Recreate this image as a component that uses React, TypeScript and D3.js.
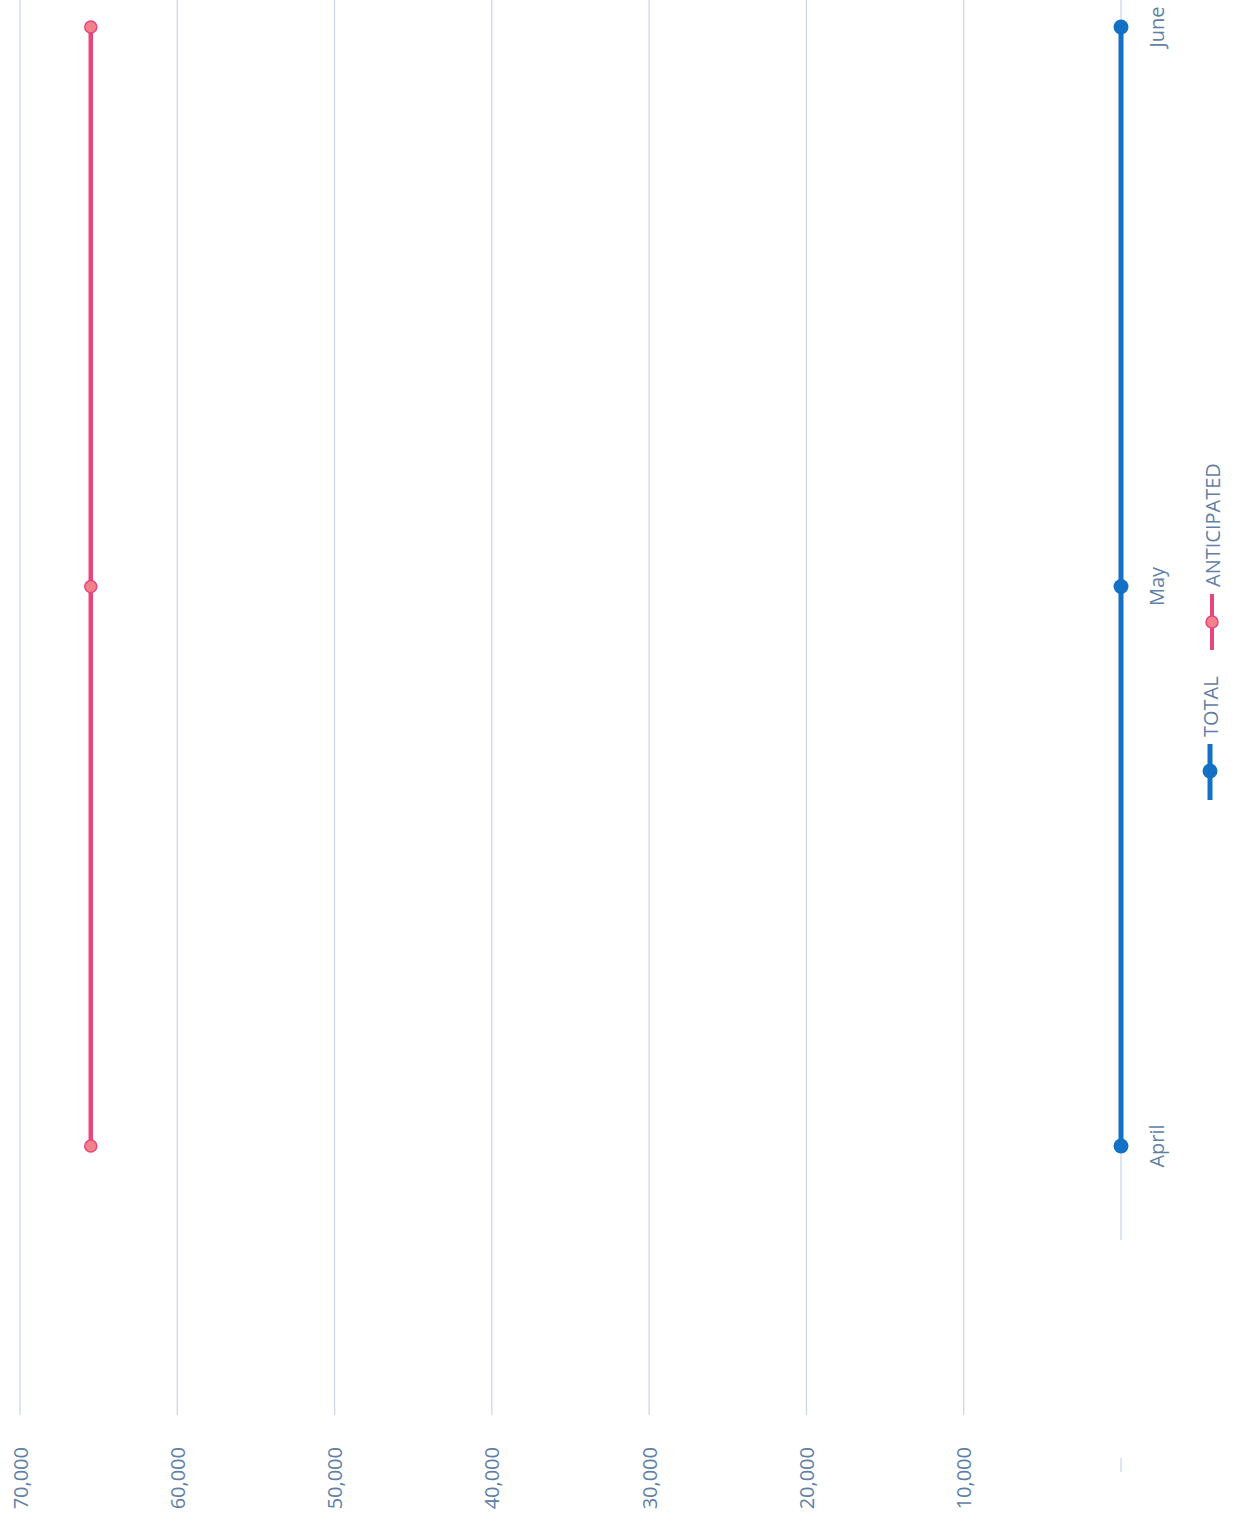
import React from "react";
import * as d3 from "d3";

const categories = ["April", "May", "June"];
const totalValues = [0, 0, 0];
const anticipatedValues = [65500, 65500, 65500];
const valueTicks = [0, 10000, 20000, 30000, 40000, 50000, 60000, 70000];
const seriesNames = ["TOTAL", "ANTICIPATED"];

const W = 1234;
const H = 1521;
const FONT = "'Open Sans', 'DejaVu Sans', sans-serif";
const LABEL = "#5f7fa6";
const GRID = "#cdd8e8";
const BLUE = "#1271c4";
const PINK = "#e8457f";
const PINK_FILL = "#f2828a";

export default function App() {
  // chart is rotated: values run along screen x (high at left), categories along screen y (bottom→top)
  const v = d3.scaleLinear().domain([0, 70000]).range([1121, 20]);
  const c = d3.scalePoint<string>().domain(categories).range([1146, 27]);
  const line = d3
    .line<[string, number]>()
    .x((d) => v(d[1]))
    .y((d) => c(d[0]) as number);
  const fmt = d3.format(",");

  const totalPts: [string, number][] = categories.map((k, i) => [k, totalValues[i]]);
  const antPts: [string, number][] = categories.map((k, i) => [k, anticipatedValues[i]]);

  return (
    <svg
      width={W}
      height={H}
      style={{ position: "absolute", left: 0, top: 0, background: "#fff" }}
      fontFamily={FONT}
    >
      {valueTicks.map((t) => (
        <g key={t}>
          <line
            x1={v(t)}
            x2={v(t)}
            y1={0}
            y2={t === 0 ? 1240 : 1415}
            stroke={GRID}
            strokeWidth={1.3}
          />
          {t !== 0 && (
            <text
              transform={`translate(${v(t)},1447) rotate(-90)`}
              textAnchor="end"
              dominantBaseline="central"
              fontSize={20}
              fill={LABEL}
            >
              {fmt(t)}
            </text>
          )}
        </g>
      ))}
      <line x1={v(0)} x2={v(0)} y1={1458} y2={1472} stroke={GRID} strokeWidth={1.3} />

      {categories.map((k) => (
        <text
          key={k}
          transform={`translate(1156,${c(k)}) rotate(-90)`}
          textAnchor="middle"
          dominantBaseline="central"
          fontSize={20}
          fill={LABEL}
        >
          {k}
        </text>
      ))}

      <path d={line(antPts) || ""} fill="none" stroke={PINK} strokeWidth={4.5} />
      {antPts.map((d) => (
        <circle
          key={d[0]}
          cx={v(d[1])}
          cy={c(d[0])}
          r={6}
          fill={PINK_FILL}
          stroke={PINK}
          strokeWidth={1.5}
        />
      ))}

      <path d={line(totalPts) || ""} fill="none" stroke={BLUE} strokeWidth={5} />
      {totalPts.map((d) => (
        <circle key={d[0]} cx={v(d[1])} cy={c(d[0])} r={7.5} fill={BLUE} />
      ))}

      {/* legend */}
      <g>
        <line x1={1210} x2={1210} y1={800} y2={744} stroke={BLUE} strokeWidth={5} />
        <circle cx={1210} cy={771} r={7.5} fill={BLUE} />
        <text
          transform="translate(1210,737) rotate(-90)"
          dominantBaseline="central"
          fontSize={20}
          fill={LABEL}
        >
          {seriesNames[0]}
        </text>
        <line x1={1212} x2={1212} y1={650} y2={594} stroke={PINK} strokeWidth={4} />
        <circle cx={1212} cy={622} r={6} fill={PINK_FILL} stroke={PINK} strokeWidth={1.5} />
        <text
          transform="translate(1212,587) rotate(-90)"
          dominantBaseline="central"
          fontSize={20}
          fill={LABEL}
        >
          {seriesNames[1]}
        </text>
      </g>
    </svg>
  );
}
